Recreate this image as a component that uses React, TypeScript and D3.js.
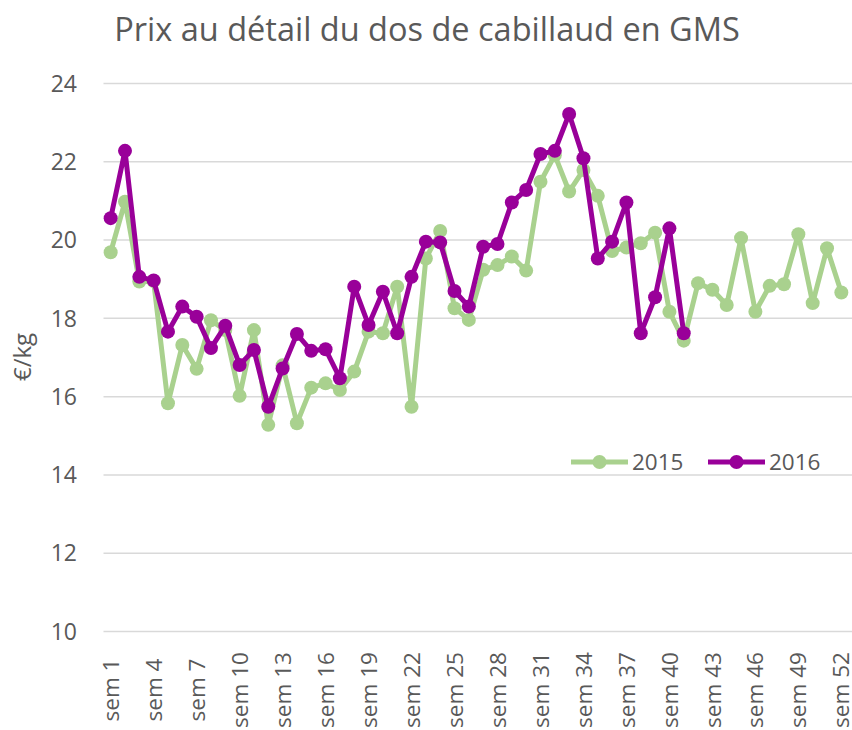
import React from "react";
import * as d3 from "d3";

const weeks: string[] = Array.from({ length: 52 }, (_, i) => `sem ${i + 1}`);
const tickWeeks: string[] = ["sem 1","sem 4","sem 7","sem 10","sem 13","sem 16","sem 19","sem 22","sem 25","sem 28","sem 31","sem 34","sem 37","sem 40","sem 43","sem 46","sem 49","sem 52"];
const yTicks: number[] = [10, 12, 14, 16, 18, 20, 22, 24];

const values2015: number[] = [19.69, 20.98, 18.94, 18.95, 15.83, 17.32, 16.71, 17.95, 17.7, 16.02, 17.7, 15.28, 16.8, 15.32, 16.23, 16.34, 16.17, 16.64, 17.66, 17.62, 18.81, 15.74, 19.53, 20.23, 18.26, 17.96, 19.24, 19.36, 19.58, 19.22, 21.49, 22.17, 21.24, 21.79, 21.13, 19.72, 19.81, 19.92, 20.19, 18.17, 17.43, 18.9, 18.73, 18.34, 20.05, 18.17, 18.83, 18.87, 20.15, 18.39, 19.79, 18.66];
const values2016: number[] = [20.56, 22.28, 19.06, 18.97, 17.66, 18.3, 18.04, 17.24, 17.81, 16.81, 17.19, 15.74, 16.72, 17.6, 17.17, 17.21, 16.47, 18.81, 17.83, 18.68, 17.62, 19.06, 19.96, 19.94, 18.7, 18.3, 19.83, 19.9, 20.96, 21.28, 22.2, 22.28, 23.22, 22.09, 19.53, 19.96, 20.96, 17.62, 18.54, 20.3, 17.62];

const seriesNames: string[] = ["2015", "2016"];
const colors: string[] = ["#A9D18E", "#990099"];

const W = 852, H = 730;
const left = 103.5, right = 848.5, top = 83.5, bottom = 631.5;
const FONT = "'Open Sans', sans-serif";
const TEXT = "#595959";

export default function App() {
  const x = d3.scaleBand<string>().domain(weeks).range([left, right]);
  const y = d3.scaleLinear().domain([10, 24]).range([bottom, top]);
  const cx = (w: string) => (x(w) as number) + x.bandwidth() / 2;
  const line = d3.line<number>().x((_, i) => cx(weeks[i])).y((d) => y(d));
  const series = [values2015, values2016];

  return (
    <svg width={W} height={H} style={{ position: "absolute", left: 0, top: 0, background: "#fff" }}>
      <text x={427} y={41} textAnchor="middle" fontFamily={FONT} fontSize={32.5} fill={TEXT}>
        Prix au détail du dos de cabillaud en GMS
      </text>
      {yTicks.map((t) => (
        <g key={t}>
          <line x1={left} x2={right + 4} y1={y(t)} y2={y(t)} stroke="#d9d9d9" strokeWidth={1.5} />
          <text x={77} y={y(t)} dy="0.36em" textAnchor="end" fontFamily={FONT} fontSize={23} fill={TEXT}>
            {t}
          </text>
        </g>
      ))}
      <text transform={`translate(31,${357}) rotate(-90)`} textAnchor="middle" fontFamily={FONT} fontSize={24} fill={TEXT}>
        €/kg
      </text>
      {tickWeeks.map((w) => (
        <text key={w} transform={`translate(${cx(w)},${690}) rotate(-90)`} dy="0.36em" textAnchor="middle" fontFamily={FONT} fontSize={22.5} fill={TEXT}>
          {w}
        </text>
      ))}
      {series.map((vals, si) => (
        <g key={si}>
          <path d={line(vals) || ""} fill="none" stroke={colors[si]} strokeWidth={5} strokeLinejoin="round" />
          {vals.map((v, i) => (
            <circle key={i} cx={cx(weeks[i])} cy={y(v)} r={7} fill={colors[si]} />
          ))}
        </g>
      ))}
      {seriesNames.map((n, i) => {
        const lx = 571 + i * 137;
        return (
          <g key={n}>
            <line x1={lx} x2={lx + 57} y1={462} y2={462} stroke={colors[i]} strokeWidth={5} />
            <circle cx={lx + 28.5} cy={462} r={7} fill={colors[i]} />
            <text x={lx + 61} y={462} dy="0.36em" fontFamily={FONT} fontSize={22.5} fill={TEXT}>
              {n}
            </text>
          </g>
        );
      })}
    </svg>
  );
}
